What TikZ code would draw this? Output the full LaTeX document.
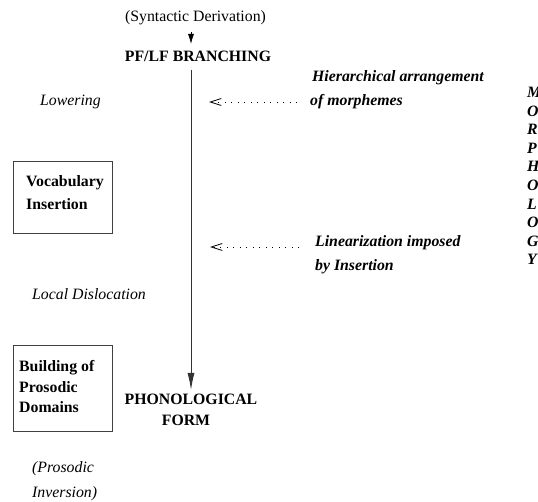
\documentclass[tikz,border=0pt]{standalone}
\usepackage{fontspec}
\setmainfont{Liberation Serif}
\usetikzlibrary{arrows.meta}
\begin{document}
\begin{tikzpicture}[x=1pt,y=-1pt,
  txt/.style={inner sep=0pt, font=\fontsize{15.8}{19}\selectfont},
  bf/.style={txt, font=\fontsize{15.8}{19}\selectfont\bfseries},
  it/.style={txt, font=\fontsize{15.8}{19}\selectfont\itshape},
  bfit/.style={txt, font=\fontsize{15.8}{19}\selectfont\bfseries\itshape},
  frame/.style={draw=black!75, line width=0.9pt, inner sep=0pt},
  mainline/.style={draw=black!80, line width=0.9pt},
  dotarrow/.style={line width=0.9pt, dash pattern=on 0.9pt off 5.6pt,
    -{Straight Barb[length=11pt,width=7pt,line width=0.8pt]}}]
\useasboundingbox (0,0) rectangle (538,502);

% derivation input and the branching point
\node[txt, anchor=base] (synt) at (195.5,22) {(Syntactic Derivation)};
\coordinate (syntend) at (191,32);
\coordinate (brtop) at (191,44);
\draw[line width=0.8pt, -{Latex[length=10pt,width=6pt]}] (syntend) -- (brtop);
\node[bf, anchor=base] (branch) at (198,62) {PF/LF BRANCHING};

% main derivational path down to PF
\coordinate (pathtop) at (191,70);
\coordinate (pathend) at (191,390);
\draw[mainline, -{Latex[length=17pt,width=7pt]}] (pathtop) -- (pathend);
\node[bf, anchor=base] (phon1) at (191,404) {PHONOLOGICAL};
\node[bf, anchor=base] (phon2) at (186,425) {FORM};

% operations on the left
\node[it, anchor=base west] (lower) at (40,106) {Lowering};
\node[frame, minimum width=99, minimum height=72] (vocbox) at (62.5,197) {};
\node[bf, anchor=base west] (voc1) at (26,187) {Vocabulary};
\node[bf, anchor=base west] (voc2) at (26,210) {Insertion};
\node[it, anchor=base west] (local) at (32,300) {Local Dislocation};
\node[frame, minimum width=99, minimum height=86] (buildbox) at (62.5,388) {};
\node[bf, anchor=base west] (bld1) at (19,372) {Building of};
\node[bf, anchor=base west] (bld2) at (19,392) {Prosodic};
\node[bf, anchor=base west] (bld3) at (19,412) {Domains};
\node[it, anchor=base west] (pros1) at (32,472) {(Prosodic};
\node[it, anchor=base west] (pros2) at (32,497) {Inversion)};

% annotations on the right
\node[bfit, anchor=base west] (hier1) at (312,82) {Hierarchical arrangement};
\node[bfit, anchor=base west] (hier2) at (310,106) {of morphemes};
\coordinate (hiertail) at (297,102);
\coordinate (hierhead) at (209,102);
\draw[dotarrow] (hiertail) -- (hierhead);

\node[bfit, anchor=base west] (lin1) at (315,247) {Linearization imposed};
\node[bfit, anchor=base west] (lin2) at (315,271) {by Insertion};
\coordinate (lintail) at (299,247);
\coordinate (linhead) at (210,247);
\draw[dotarrow] (lintail) -- (linhead);

% vertical MORPHOLOGY label, running off the right edge
\foreach \ch [count=\k from 0] in {M,O,R,P,H,O,L,O,G,Y}
  \node[bfit, anchor=base west] (morph\k) at (527,{97.5+18.6*\k}) {\ch};
\end{tikzpicture}
\end{document}
